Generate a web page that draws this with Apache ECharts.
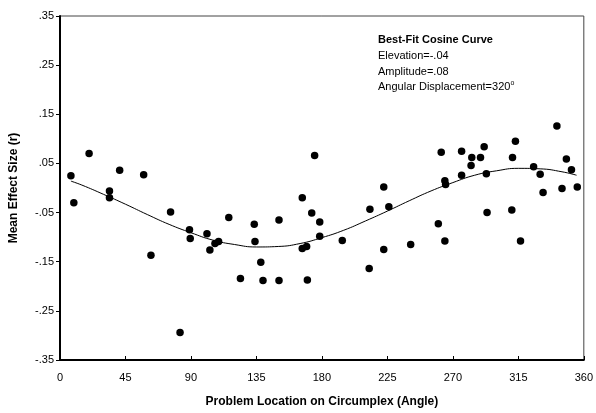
<!DOCTYPE html>
<html>
<head>
<meta charset="utf-8">
<script src="https://cdn.jsdelivr.net/npm/echarts@6/dist/echarts.min.js"></script>
<style>
  html, body { margin: 0; padding: 0; background: #fff; }
  #chart { width: 596px; height: 413px; }
</style>
</head>
<body>
<div id="chart"></div>
<script>
// 观测点：角度 & 平均效应量
const angles = [
  7.5, 9.5, 20, 34, 34, 41, 57.5, 62.5, 76, 82.5, 89, 89.5,
  101, 103, 106.5, 109, 116, 124, 133.5, 134, 138, 139.5, 150.5, 150.5,
  166.5, 166.5, 169.5, 170, 173, 175, 178.5, 178.5, 194, 212.5, 213, 222.5,
  222.5, 226, 241, 260, 262, 264.5, 264.5, 265, 276, 276, 282.5, 283,
  289, 291.5, 293, 293.5, 310.5, 311, 313, 316.5, 325.5, 330, 332, 341.5,
  345, 348, 351.5, 355.5
];
const effects = [
  0.025, -0.030, 0.070, -0.006, -0.020, 0.036, 0.027, -0.137, -0.049, -0.294, -0.085, -0.103,
  -0.093, -0.126, -0.113, -0.109, -0.060, -0.184, -0.074, -0.109, -0.151, -0.188, -0.065, -0.188,
  -0.020, -0.123, -0.119, -0.187, -0.051, 0.066, -0.069, -0.098, -0.107, -0.164, -0.043, 0.002,
  -0.125, -0.038, -0.115, -0.073, 0.073, 0.015, -0.108, 0.007, 0.075, 0.026, 0.046, 0.062,
  0.062, 0.084, 0.029, -0.050, -0.045, 0.062, 0.095, -0.108, 0.043, 0.028, -0.009, 0.126,
  -0.001, 0.059, 0.037, 0.002
];

// 拟合余弦曲线
const curveAngles = [7.5, 15, 30, 45, 60, 75, 90, 105, 120, 135, 150, 165, 180,
  195, 210, 225, 240, 255, 270, 285, 300, 315, 330, 345, 355];
const curveValues = [0.014, 0.006, -0.013, -0.033, -0.054, -0.074, -0.091, -0.106, -0.115, -0.120, -0.119, -0.113, -0.101,
  -0.086, -0.067, -0.047, -0.026, -0.006, 0.011, 0.026, 0.035, 0.040, 0.039, 0.033, 0.026];

const fitLines = ['Elevation=-.04', 'Amplitude=.08'];

const FONT = 'Liberation Sans, Arial, sans-serif';

function fmtY(v) {
  const s = Math.abs(v).toFixed(2).replace(/^0/, '');
  return (v < -1e-9 ? '-' : '') + s;
}

const chart = echarts.init(document.getElementById('chart'));
chart.setOption({
  backgroundColor: '#fff',
  animation: false,
  grid: {
    left: 59, right: 9, top: 16, bottom: 50,
    show: true, borderColor: '#444', borderWidth: 1
  },
  xAxis: {
    type: 'value', min: 0, max: 360, interval: 45,
    name: 'Problem Location on Circumplex (Angle)',
    nameLocation: 'middle', nameGap: 36,
    nameTextStyle: { fontFamily: FONT, fontSize: 12, fontWeight: 'bold', color: '#000' },
    axisLine: { show: true, onZero: false, lineStyle: { color: '#000', width: 2 } },
    axisTick: { show: true, inside: true, length: 4, lineStyle: { color: '#000' } },
    axisLabel: { fontFamily: FONT, fontSize: 11, color: '#000', margin: 12 },
    splitLine: { show: false }
  },
  yAxis: {
    type: 'value', min: -0.35, max: 0.35, interval: 0.1,
    name: 'Mean Effect Size (r)',
    nameLocation: 'middle', nameGap: 40,
    nameTextStyle: { fontFamily: FONT, fontSize: 12, fontWeight: 'bold', color: '#000' },
    axisLine: { show: true, onZero: false, lineStyle: { color: '#000', width: 2 } },
    axisTick: { show: true, inside: false, length: 4, lineStyle: { color: '#000' } },
    axisLabel: { fontFamily: FONT, fontSize: 11, color: '#000', margin: 6, formatter: fmtY },
    splitLine: { show: false }
  },
  graphic: [
    {
      type: 'text', left: 378, top: 34,
      style: { text: 'Best-Fit Cosine Curve', font: 'bold 11px ' + FONT, fill: '#000' }
    },
    {
      type: 'text', left: 378, top: 50,
      style: { text: fitLines[0], font: '11px ' + FONT, fill: '#000' }
    },
    {
      type: 'text', left: 378, top: 66,
      style: { text: fitLines[1], font: '11px ' + FONT, fill: '#000' }
    },
    {
      type: 'text', left: 378, top: 80,
      style: {
        text: '{a|Angular Displacement=320}{s|o}',
        rich: {
          a: { fontFamily: FONT, fontSize: 11, color: '#000' },
          s: { fontFamily: FONT, fontSize: 7, color: '#000', padding: [0, 0, 7, 0] }
        }
      }
    }
  ],
  series: [
    {
      type: 'scatter',
      data: angles.map((a, i) => [a, effects[i]]),
      symbol: 'circle', symbolSize: 7.5,
      itemStyle: { color: '#000', opacity: 1 },
      z: 3
    },
    {
      type: 'line',
      data: curveAngles.map((a, i) => [a, curveValues[i]]),
      smooth: true, showSymbol: false,
      lineStyle: { color: '#000', width: 1 },
      z: 2
    }
  ]
});
</script>
</body>
</html>
